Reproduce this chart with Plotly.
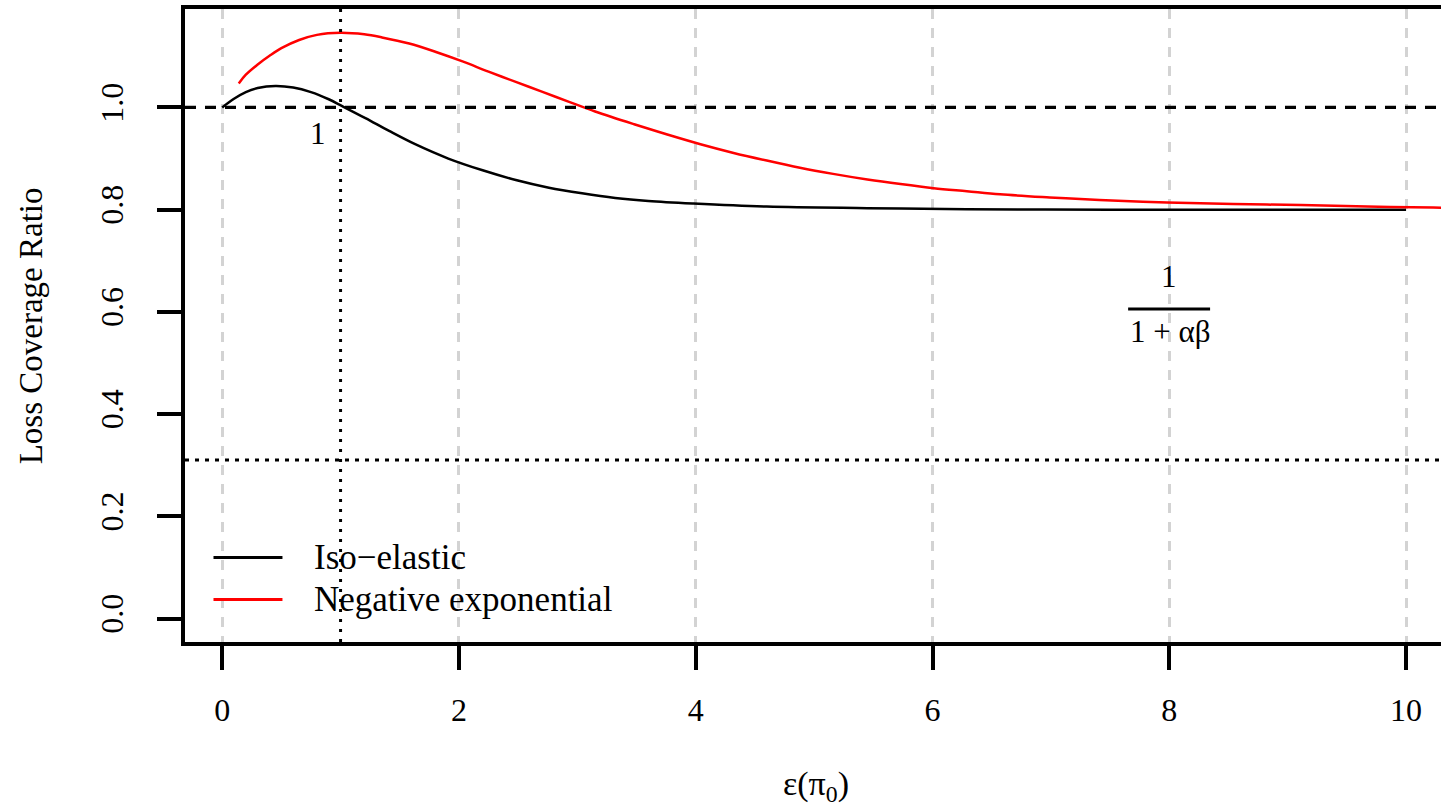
import plotly.graph_objects as go

# ---------------- data ----------------
iso_x = [0.0, 0.1, 0.2, 0.3, 0.45, 0.6, 0.75, 0.9, 1.01, 1.21, 1.41, 1.63, 1.91,
         2.20, 2.48, 2.76, 3.04, 3.32, 3.60, 3.98, 4.60, 5.45, 6.29, 7.5, 8.5, 10.0]
iso_y = [1.000, 1.017, 1.030, 1.038, 1.042, 1.039, 1.030, 1.016, 1.003, 0.979, 0.954,
         0.928, 0.900, 0.877, 0.858, 0.843, 0.832, 0.823, 0.817, 0.812, 0.806, 0.803,
         0.801, 0.800, 0.800, 0.800]

neg_x = [0.14, 0.2, 0.3, 0.4, 0.5, 0.65, 0.8, 1.0, 1.2, 1.35, 1.58, 1.80, 2.03, 2.25,
         2.48, 2.70, 2.93, 3.15, 3.48, 3.76, 4.04, 4.32, 4.60, 4.88, 5.16, 5.45, 5.73,
         6.01, 6.29, 6.57, 6.99, 7.41, 7.98, 8.54, 9.11, 9.67, 10.23, 10.4]
neg_y = [1.047, 1.064, 1.084, 1.101, 1.116, 1.132, 1.142, 1.146, 1.143, 1.137, 1.125,
         1.109, 1.090, 1.070, 1.050, 1.031, 1.011, 0.992, 0.967, 0.947, 0.928, 0.911,
         0.896, 0.882, 0.870, 0.859, 0.850, 0.842, 0.836, 0.830, 0.824, 0.819, 0.814,
         0.811, 0.809, 0.806, 0.804, 0.804]

x_ticks = [0, 2, 4, 6, 8, 10]
y_ticks = [0.0, 0.2, 0.4, 0.6, 0.8, 1.0]
y_tick_labels = ["0.0", "0.2", "0.4", "0.6", "0.8", "1.0"]

ref_hline_dashed = 1.0
ref_hline_dotted = 0.31
ref_vline_dotted = 1.0

series_names = ["Iso\u2212elastic", "Negative exponential"]
series_colors = ["black", "red"]

# ---------------- layout geometry (pixels) ----------------
W, H = 1441, 809
Lp, Rp, Tp, Bp = 184.5, 1441.0, 9.0, 642.5
x_range = [-0.314, 10.295]
y_range = [-0.0459, 1.1926]


def px(xp):
    return (xp - Lp) / (Rp - Lp)


def py(yp):
    return (Bp - yp) / (Bp - Tp)


FONT = "Liberation Serif, Times New Roman, serif"

fig = go.Figure()
fig.add_trace(go.Scatter(x=iso_x, y=iso_y, mode="lines", name=series_names[0],
                         line=dict(color=series_colors[0], width=2.5, shape="spline", smoothing=1.0),
                         showlegend=False))
fig.add_trace(go.Scatter(x=neg_x, y=neg_y, mode="lines", name=series_names[1],
                         line=dict(color=series_colors[1], width=2.5, shape="spline", smoothing=1.0),
                         showlegend=False))

shapes = [
    dict(type="line", xref="paper", x0=0, x1=1, yref="y", y0=ref_hline_dashed, y1=ref_hline_dashed,
         line=dict(color="black", width=3.2, dash="11px,9px")),
    dict(type="line", xref="paper", x0=0, x1=1, yref="y", y0=ref_hline_dotted, y1=ref_hline_dotted,
         line=dict(color="black", width=3, dash="4px,6px")),
    dict(type="line", yref="paper", y0=0, y1=1, xref="x", x0=ref_vline_dotted, x1=ref_vline_dotted,
         line=dict(color="black", width=3, dash="3px,7px")),
    # fraction bar
    dict(type="line", xref="paper", yref="paper", x0=px(1128), x1=px(1210), y0=py(309.3), y1=py(309.3),
         line=dict(color="black", width=3)),
]
# legend samples
for name, col, yp in zip(series_names, series_colors, [558, 600]):
    shapes.append(dict(type="line", xref="paper", yref="paper", x0=px(213), x1=px(282),
                       y0=py(yp), y1=py(yp), line=dict(color=col, width=3)))

annotations = []
for name, yp in zip(series_names, [558, 600]):
    annotations.append(dict(text=name, xref="paper", yref="paper", x=px(312), y=py(yp),
                            xanchor="left", yanchor="middle", showarrow=False,
                            font=dict(family=FONT, size=35, color="black")))

annotations += [
    dict(text="1", xref="paper", yref="paper", x=px(318), y=py(134), showarrow=False,
         xanchor="center", yanchor="middle", font=dict(family=FONT, size=31, color="black")),
    dict(text="1", xref="paper", yref="paper", x=px(1169), y=py(277), showarrow=False,
         xanchor="center", yanchor="middle", font=dict(family=FONT, size=31, color="black")),
    dict(text="1 + \u03b1\u03b2", xref="paper", yref="paper", x=px(1170), y=py(332), showarrow=False,
         xanchor="center", yanchor="middle", font=dict(family=FONT, size=31, color="black")),
    dict(text="\u03b5(\u03c0<sub>0</sub>)", xref="paper", yref="paper", x=px(816), y=py(787),
         showarrow=False, xanchor="center", yanchor="middle",
         font=dict(family=FONT, size=34, color="black")),
    dict(text="Loss Coverage Ratio", xref="paper", yref="paper", x=px(30), y=py(326),
         showarrow=False, xanchor="center", yanchor="middle", textangle=-90,
         font=dict(family=FONT, size=33, color="black")),
]

fig.update_layout(
    width=W, height=H,
    margin=dict(l=Lp, r=W - Rp, t=Tp, b=H - Bp, pad=0),
    paper_bgcolor="white", plot_bgcolor="white",
    shapes=shapes, annotations=annotations,
    showlegend=False,
    xaxis=dict(range=x_range, tickvals=x_ticks, ticktext=[str(v) for v in x_ticks],
               showgrid=True, gridcolor="#d3d3d3", gridwidth=2.5, griddash="10px,9px",
               zeroline=False, showline=True, linecolor="black", linewidth=3.5, mirror=True,
               ticks="outside", ticklen=24, tickwidth=3.5, tickcolor="black",
               ticklabelstandoff=13,
               tickfont=dict(family=FONT, size=32, color="black")),
    yaxis=dict(range=y_range, tickvals=y_ticks, ticktext=y_tick_labels, tickangle=-90,
               showgrid=False, zeroline=False, showline=True, linecolor="black", linewidth=3.5,
               mirror=False, ticks="outside", ticklen=24, tickwidth=3.5, tickcolor="black",
               ticklabelstandoff=21,
               tickfont=dict(family=FONT, size=32, color="black")),
)

fig.write_html("out.html", config={"displayModeBar": False},
               post_script="document.body.style.margin='0px';")
